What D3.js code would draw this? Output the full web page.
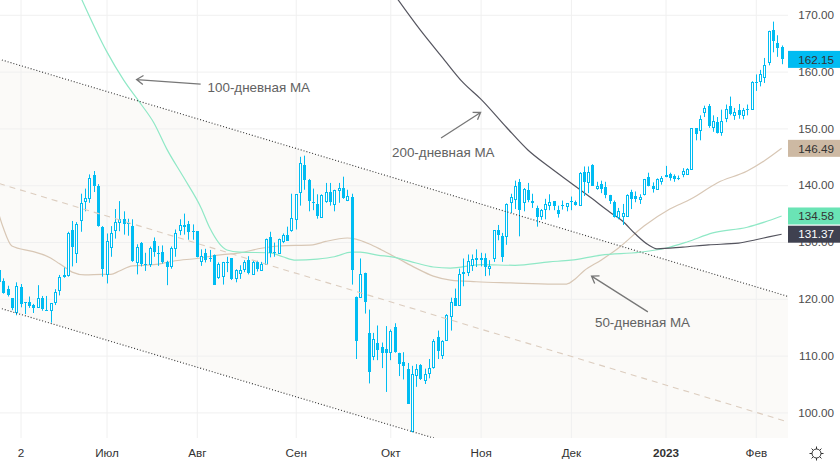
<!DOCTYPE html>
<html lang="ru">
<head>
<meta charset="UTF-8">
<title>Свечной график с MA</title>
<style>
  body { margin: 0; background: #fff; overflow: hidden; }
  svg { display: block; font-family: "Liberation Sans", Arial, sans-serif; }
  .axis path, .axis line { display: none; }
  .grid line { stroke: #f0f0f0; stroke-width: 1; }
  .grid path { display: none; }
  .axis text { fill: #4c4c4c; font-size: 11.7px; }
  .time text { fill: #333; }
  .ma { fill: none; stroke-width: 1.2; }
  .note { fill: #626262; font-size: 13.4px; }
  .arrow { fill: none; stroke: #777; stroke-width: 1.3; }
</style>
</head>
<body>
<script src="https://d3js.org/d3.v7.min.js"></script>
<script>
// bars are numbered from -1 (cut off on the left edge) to 181 (last session)
const opens = [125.0,
  123.1,121.7,120.1,117.6,122.0,119.4,119.4,118.9,118.6,120.1,
  118.1,118.1,119.5,121.6,124.2,124.2,132.2,128.0,133.9,137.2,
  137.7,141.8,139.9,132.7,124.3,129.1,132.1,133.5,134.1,133.4,
  132.9,126.5,129.9,126.1,126.1,130.1,128.1,128.3,126.5,125.7,
  129.0,132.1,133.0,133.1,132.0,131.9,126.7,128.1,127.1,127.7,
  123.9,124.0,126.4,127.1,123.6,124.6,125.3,126.8,124.4,126.4,
  125.1,126.1,130.8,128.3,128.0,130.2,131.3,132.2,134.1,138.8,
  143.6,141.0,137.1,136.7,134.4,137.2,138.8,136.7,139.1,139.5,
  137.4,138.0,120.4,120.3,124.6,114.0,109.9,112.2,111.6,111.1,
  110.6,115.1,110.5,108.8,107.7,96.7,106.6,108.4,105.7,107.0,
  108.0,113.2,110.1,112.7,117.0,120.2,118.9,124.8,124.7,126.0,
  127.2,127.2,127.2,125.4,127.2,132.1,131.1,131.0,137.0,137.5,
  140.5,137.0,139.2,137.2,136.0,134.5,135.8,136.5,137.2,135.6,
  136.5,136.4,137.2,137.1,136.5,142.4,140.5,143.6,139.5,140.2,
  139.7,138.3,137.1,134.4,134.6,134.5,138.8,138.1,137.5,138.4,
  141.4,139.9,139.4,140.8,141.8,142.0,141.6,141.3,141.9,142.0,
  142.9,150.0,149.7,152.9,154.0,150.2,151.2,149.4,151.9,154.0,
  152.3,153.3,152.3,153.5,153.4,158.2,158.3,159.0,161.7,167.4,
  165.0,164.4];
const highs = [125.1,
  123.6,122.3,120.1,122.9,122.6,119.4,120.4,119.1,122.4,120.5,
  120.5,119.2,121.7,124.2,125.5,131.8,133.7,133.5,138.5,139.4,
  141.9,142.5,140.2,132.8,131.5,132.8,135.8,137.2,135.4,134.1,
  134.0,129.6,130.0,128.1,129.2,130.8,129.3,129.4,126.7,129.2,
  132.2,134.0,135.0,133.7,133.1,131.9,128.7,128.8,128.6,127.8,
  126.4,126.5,127.4,127.1,125.2,125.9,126.8,127.5,126.8,126.7,
  126.5,130.6,131.8,129.9,130.6,131.5,132.7,138.5,138.4,145.0,
  145.2,141.1,139.4,138.4,138.4,140.4,140.4,139.2,140.4,141.5,
  139.2,138.5,120.4,127.1,124.6,118.1,114.0,115.3,112.3,115.2,
  114.6,115.7,110.5,110.6,108.7,108.2,108.5,108.5,107.7,109.4,
  112.9,114.4,112.7,117.3,120.2,121.8,125.3,127.1,127.8,127.8,
  128.7,128.1,128.0,126.8,132.1,133.0,131.6,136.8,138.5,140.8,
  141.1,139.5,140.4,138.5,136.4,135.8,137.6,138.4,137.2,136.4,
  137.3,136.8,138.0,137.3,142.3,143.3,143.3,143.7,140.6,140.8,
  140.6,138.3,137.3,136.0,136.7,138.4,139.2,138.9,138.4,141.1,
  142.2,140.5,141.2,141.6,143.4,142.2,141.9,141.7,143.0,143.0,
  150.0,150.0,152.3,154.0,154.3,152.3,152.0,153.3,154.2,155.6,
  153.6,154.3,153.6,154.2,158.3,159.5,160.3,162.4,167.2,168.8,
  166.4,164.6];
const lows = [122.3,
  120.9,120.4,118.0,117.1,118.5,117.3,118.4,117.5,118.6,117.9,
  117.9,115.8,118.9,120.6,123.7,123.9,125.7,126.3,131.8,135.4,
  136.9,138.8,132.7,123.9,122.7,127.4,130.6,131.9,131.3,131.1,
  126.5,124.3,125.7,124.9,125.6,127.4,125.8,126.2,122.4,125.3,
  127.4,131.2,131.3,130.4,130.4,127.3,125.8,126.4,126.5,122.5,
  123.5,122.5,124.7,123.3,122.9,123.5,124.7,124.3,124.3,124.8,
  124.9,126.1,127.3,127.4,127.9,129.8,130.2,131.8,132.2,136.4,
  139.2,135.4,135.6,134.1,134.4,136.9,136.4,135.4,136.9,137.6,
  137.2,122.5,109.4,120.3,117.4,105.1,109.2,109.2,107.8,103.6,
  109.2,110.5,106.4,105.8,101.5,96.5,104.5,105.7,105.0,106.0,
  107.7,109.4,109.4,112.6,114.4,118.8,118.9,122.2,124.0,124.9,
  125.6,125.7,124.0,124.1,126.5,130.3,126.5,129.5,135.1,135.8,
  131.0,135.4,137.0,136.0,132.7,133.9,134.0,135.6,135.6,134.3,
  135.7,135.4,135.6,136.4,136.4,138.1,138.6,139.9,139.2,138.6,
  137.7,136.7,134.3,134.0,133.0,134.4,135.8,137.0,136.7,138.2,
  139.8,138.7,139.4,140.1,141.4,140.8,140.6,140.9,141.4,141.8,
  142.8,147.9,147.9,152.0,150.1,149.4,149.1,148.7,151.1,152.3,
  151.5,151.7,151.6,152.3,153.4,156.6,157.4,158.0,161.1,163.4,
  162.6,161.3];
const closes = [122.9,
  121.1,120.6,118.4,122.2,119.1,119.4,118.7,118.4,120.1,118.2,
  118.1,119.2,121.2,123.9,123.9,131.5,129.1,133.2,136.9,137.8,
  141.3,139.9,132.8,125.2,130.1,131.5,133.6,134.1,133.2,133.2,
  126.7,129.2,126.1,125.9,129.0,128.2,127.8,126.4,125.6,129.0,
  131.6,133.0,132.6,131.8,131.8,127.4,127.5,126.8,127.0,122.5,
  126.2,126.5,126.4,123.5,125.0,125.1,126.5,124.5,126.4,125.2,
  126.2,130.5,128.1,128.2,130.6,131.3,130.2,134.3,138.4,143.9,
  141.0,137.2,136.9,134.6,138.2,138.8,137.1,139.1,139.5,137.7,
  138.1,125.0,112.6,124.4,119.4,107.1,113.0,111.0,110.4,110.4,
  114.4,110.6,108.5,108.1,101.5,106.8,107.7,105.8,106.7,107.9,
  112.5,110.8,112.5,117.1,119.5,118.8,124.4,124.4,126.7,127.0,
  126.8,126.9,125.6,125.8,132.1,131.3,127.3,136.7,137.9,139.8,
  135.6,139.3,137.4,136.8,134.4,135.6,136.7,137.0,136.4,135.0,
  136.3,136.8,137.2,136.6,142.1,140.6,142.3,139.9,139.9,139.4,
  138.2,137.3,134.4,135.4,135.1,138.3,137.6,137.6,137.9,141.1,
  139.9,139.4,141.1,141.3,141.5,141.2,141.1,141.3,142.5,142.8,
  150.0,149.1,151.7,153.6,150.4,151.3,149.2,151.3,153.4,152.5,
  152.8,152.3,153.2,153.3,158.1,158.2,159.5,161.2,167.1,165.4,
  164.1,162.15];

// moving averages, read at the bars listed next to them
const ma50Bars = [-1,0,2,7,11,13,15,16,19,23,25,27,30,35,40,45,50,55,60,64,72,75,80,82,85,88,92,96,100,104,110,118,128,131,133,135,139,143,149,155,160,166,173,177,181];
const ma50Values = [134.8,132.5,129.3,128.3,127.2,126.2,125.2,124.7,124.2,124.3,124.3,124.9,125.8,126.0,126.7,127.1,127.7,128.1,128.9,129.3,129.5,130.1,130.7,130.5,129.7,128.6,127.0,125.4,124.0,123.3,123.0,122.8,122.6,122.6,123.5,124.9,126.8,128.9,132.8,135.8,137.6,140.4,142.5,144.3,146.49];
const ma100Bars = [18,24,28,32,35,38,42,46,48,52,55,62,65,68,73,77,81,83,87,91,96,100,104,111,119,127,132,139,148,154,159,165,173,177,181];
const ma100Values = [173.1,163.6,158.5,154.3,151.0,146.4,141.3,136.0,132.5,128.6,128.2,128.1,127.4,126.8,127.0,127.4,128.2,128.2,127.7,127.3,126.3,125.6,125.4,126.0,125.9,126.5,126.8,127.7,128.2,128.9,130.0,131.6,132.6,133.5,134.58];
const ma200Bars = [91,97,102,107,111,117,122,127,132,137,141,144,147,150,152,158,164,171,175,178,181];
const ma200Values = [173.5,167.3,162.6,158.0,155.2,150.2,146.2,143.2,140.4,137.6,135.3,133.7,131.4,129.5,128.8,129.1,129.5,129.8,130.4,130.9,131.37];

// channel lines, bars and prices at both ends
const channelBars = [-1, 183];
const channelUpper = [162.2, 120.3];
const channelMiddle = [140.3, 98.2];
const channelLower = [118.4, 76.7];

const priceTicks = [100,110,120,130,140,150,160,170];
const monthBars = [4,24,45,68,90,111,132,154,175];
const monthLabels = ["2","Июл","Авг","Сен","Окт","Ноя","Дек","2023","Фев"];

const lastPrices = [146.49, 134.58, 131.37, 162.15];
const lastColors = ["#cdb9a3", "#6ae4b5", "#3f4150", "#00bcf2"];
const lastTextColors = ["#333", "#333", "#fff", "#333"];

const noteTexts = ["100-дневная МА", "200-дневная МА", "50-дневная МА"];
const noteBars = [47.5, 90.4, 137.6];
const notePrices = [156.4, 145.0, 115.1];
const arrowTailBars = [45.9, 101.8, 149.9];
const arrowTailPrices = [157.8, 148.3, 117.7];
const arrowTipBars = [31.0, 111.0, 136.8];
const arrowTipPrices = [158.6, 152.8, 124.0];

const width = 840, height = 465, plotW = 788, plotH = 438;
const candleColor = "#00bcf2";

const x = d3.scaleLinear().domain([-1, 181]).range([-1, 781.6]);
const y = d3.scaleLinear().domain([100, 170]).range([412.4, 14.8]);

const svg = d3.select("body").append("svg").attr("width", width).attr("height", height);

svg.append("clipPath").attr("id", "plot")
  .append("rect").attr("width", plotW).attr("height", plotH);

const plot = svg.append("g").attr("clip-path", "url(#plot)");

// channel background
const area = d3.area()
  .x((d, i) => x(channelBars[i]))
  .y0((d, i) => y(channelLower[i]))
  .y1((d, i) => y(channelUpper[i]));
plot.append("path").datum(channelBars).attr("d", area).attr("fill", "#fbfaf8");

// grid
plot.append("g").attr("class", "grid")
  .attr("transform", `translate(${plotW},0)`)
  .call(d3.axisLeft(y).tickValues(priceTicks).tickSize(plotW).tickFormat(""));
plot.append("g").attr("class", "grid")
  .attr("transform", `translate(0,${plotH})`)
  .call(d3.axisTop(x).tickValues(monthBars).tickSize(plotH).tickFormat(""));

// moving averages go under the candles
const maLine = (bars, values) => d3.line()
  .curve(d3.curveMonotoneX)
  .x((d, i) => x(bars[i]))
  .y(d => y(d))(values);
plot.append("path").attr("class", "ma").attr("d", maLine(ma50Bars, ma50Values)).attr("stroke", "#d8c7b5");
plot.append("path").attr("class", "ma").attr("d", maLine(ma100Bars, ma100Values)).attr("stroke", "#8fe8c6");
plot.append("path").attr("class", "ma").attr("d", maLine(ma200Bars, ma200Values)).attr("stroke", "#55555f");

// candles
const candles = plot.selectAll(".candle")
  .data(opens.map((o, i) => ({ bar: i - 1, o, h: highs[i], l: lows[i], c: closes[i] })))
  .enter().append("g").attr("class", "candle")
  .attr("transform", d => `translate(${Math.round(x(d.bar)) + 0.5},0)`);

candles.append("line")
  .attr("y1", d => y(d.h)).attr("y2", d => y(d.l))
  .attr("stroke", candleColor).attr("stroke-width", 1);

candles.filter(d => d.c <= d.o).append("rect")
  .attr("x", -1.5).attr("width", 3)
  .attr("y", d => Math.round(y(d.o)))
  .attr("height", d => Math.max(1, Math.round(y(d.c)) - Math.round(y(d.o))))
  .attr("fill", candleColor);

candles.filter(d => d.c > d.o).append("rect")
  .attr("x", -1).attr("width", 2)
  .attr("y", d => Math.round(y(d.c)) + 0.5)
  .attr("height", d => Math.max(1, Math.round(y(d.o)) - Math.round(y(d.c))))
  .attr("fill", "#fff").attr("stroke", candleColor).attr("stroke-width", 1);

// channel lines on top
const chanLine = values => d3.line().x((d, i) => x(channelBars[i])).y(d => y(d))(values);
plot.append("path").attr("d", chanLine(channelUpper))
  .attr("fill", "none").attr("stroke", "#333").attr("stroke-width", 1.1).attr("stroke-dasharray", "1 2");
plot.append("path").attr("d", chanLine(channelLower))
  .attr("fill", "none").attr("stroke", "#333").attr("stroke-width", 1.1).attr("stroke-dasharray", "1 2");
plot.append("path").attr("d", chanLine(channelMiddle))
  .attr("fill", "none").attr("stroke", "#dccdbf").attr("stroke-width", 1.1).attr("stroke-dasharray", "6 5");

// arrows and their captions
noteTexts.forEach((t, i) => {
  const tx = x(arrowTailBars[i]), ty = y(arrowTailPrices[i]);
  const px = x(arrowTipBars[i]), py = y(arrowTipPrices[i]);
  const a = Math.atan2(ty - py, tx - px), head = 8;
  const hd = [a - 0.6, a + 0.6].map(b => [px + head * Math.cos(b), py + head * Math.sin(b)]);
  plot.append("path").attr("class", "arrow")
    .attr("d", `M${tx},${ty}L${px},${py}M${hd[0]}L${px},${py}L${hd[1]}`);
  svg.append("text").attr("class", "note")
    .attr("x", x(noteBars[i])).attr("y", y(notePrices[i])).text(t);
});

// price axis
const axisR = svg.append("g").attr("class", "axis")
  .attr("transform", `translate(${plotW},0)`)
  .call(d3.axisRight(y).tickValues(priceTicks).tickSize(0).tickPadding(0).tickFormat(d3.format(".2f")));
axisR.selectAll("text").attr("x", 46).attr("text-anchor", "end");

// last value boxes
const boxes = svg.selectAll(".last")
  .data(lastPrices)
  .enter().append("g").attr("class", "last")
  .attr("transform", d => `translate(${plotW},${y(d)})`);
boxes.append("rect")
  .attr("y", -8.5).attr("width", width - plotW).attr("height", 17)
  .attr("fill", (d, i) => lastColors[i]);
boxes.append("text")
  .attr("x", 46).attr("dy", "0.36em").attr("text-anchor", "end")
  .attr("font-size", "11.7px")
  .attr("fill", (d, i) => lastTextColors[i])
  .text(d3.format(".2f"));

// time axis
const axisB = svg.append("g").attr("class", "axis time")
  .attr("transform", `translate(0,${plotH})`)
  .call(d3.axisBottom(x).tickValues(monthBars).tickSize(0).tickPadding(11)
    .tickFormat((d, i) => monthLabels[i]));
axisB.selectAll("text").attr("font-weight", (d, i) => monthLabels[i] === "2023" ? "bold" : null);

// settings icon
const gear = svg.append("g").attr("transform", "translate(816.5,453.5)")
  .attr("fill", "none").attr("stroke", "#333").attr("stroke-width", 1);
gear.append("circle").attr("r", 4.5);
d3.range(8).forEach(k => {
  const a = k * Math.PI / 4;
  gear.append("line")
    .attr("x1", 4.5 * Math.cos(a)).attr("y1", 4.5 * Math.sin(a))
    .attr("x2", 7 * Math.cos(a)).attr("y2", 7 * Math.sin(a));
});
</script>
</body>
</html>
